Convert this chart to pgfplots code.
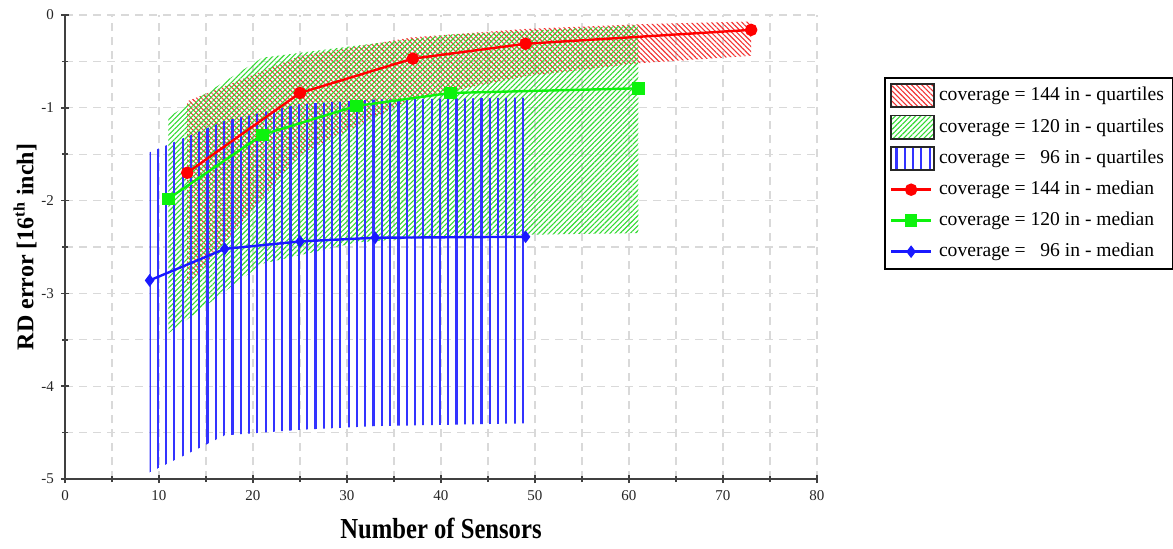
\documentclass[border=0pt]{standalone}
\usepackage{pgfplots}
\pgfplotsset{compat=1.18}
\usetikzlibrary{patterns.meta}
\usepackage{fontspec}
\setmainfont{Liberation Serif}
\usepackage{graphicx}

\definecolor{medred}{rgb}{1,0,0}
\definecolor{medgreen}{rgb}{0.05,0.95,0.05}
\definecolor{medblue}{rgb}{0.1,0.1,1}
\definecolor{hatchred}{rgb}{0.95,0.2,0.2}
\definecolor{hatchgreen}{rgb}{0.2,0.85,0.2}
\definecolor{hatchblue}{rgb}{0.2,0.2,1}

\begin{document}
\begin{tikzpicture}
\useasboundingbox (-32.5pt,-34.5pt) rectangle (554pt,239.5pt);
\begin{axis}[
  scale only axis, width=376pt, height=232pt,
  xmin=0, xmax=80, ymin=-5, ymax=0,
  axis x line=bottom, axis y line=left,
  axis line style={-, line width=0.9pt, black!75},
  xtick={0,10,...,80}, ytick={-5,-4,...,0},
  minor x tick num=1, minor y tick num=1,
  grid=both,
  major grid style={dash pattern=on 4pt off 3pt, gray!30, line width=0.6pt},
  minor grid style={dash pattern=on 4pt off 3pt, gray!30, line width=0.6pt},
  tick align=center, major tick length=4pt, minor tick length=3pt,
  tick style={black!75, line width=0.8pt},
  ticklabel style={font=\fontsize{7.5}{8}\selectfont, text=black!85},
  /pgf/number format/assume math mode=true,
  xlabel={\scalebox{0.85}[1]{\fontsize{14.5}{16}\selectfont\bfseries Number of Sensors}},
  ylabel={\fontsize{12}{14}\selectfont\bfseries RD error [16\textsuperscript{th} inch]},
  every axis x label/.style={at={(axis description cs:0.5,-0.106)}, anchor=center},
  every axis y label/.style={at={(axis description cs:-0.053,0.5)}, anchor=center, rotate=90},
  legend style={at={(1.089,0.866)}, anchor=north west, draw=black, line width=1pt,
    font=\fontsize{9.8}{12}\selectfont, inner sep=2.5pt, row sep=3.2pt,
    /tikz/every even column/.append style={column sep=2pt}},
  legend cell align=left,
  quart/.style={draw=none,
    legend image code/.code={\draw[##1, draw=black!85, line width=0.9pt] (0pt,-5.8pt) rectangle (21.5pt,5.8pt);}},
  med/.style={line width=1.2pt,
    legend image code/.code={\draw[mark repeat=2,mark phase=2,##1] plot coordinates {(0pt,0pt) (10pt,0pt) (20pt,0pt)};}},
]
% quartile areas
\addplot[quart, pattern={Lines[angle=-45,distance=1.8pt,line width=0.55pt]}, pattern color=hatchred]
 coordinates {(13,-0.93) (25,-0.44) (37,-0.24) (49,-0.15) (61,-0.10) (73,-0.07)
              (73,-0.44) (61,-0.52) (49,-0.66) (37,-0.90) (25,-1.50) (13,-2.92) (13,-0.93)};
\addlegendentry{coverage = 144 in - quartiles}
\addplot[quart, pattern={Lines[angle=45,distance=1.8pt,line width=0.55pt]}, pattern color=hatchgreen]
 coordinates {(11,-1.10) (21,-0.46) (31,-0.33) (41,-0.21) (61,-0.11)
              (61,-2.35) (41,-2.38) (31,-2.45) (21,-2.68) (11,-3.43) (11,-1.10)};
\addlegendentry{coverage = 120 in - quartiles}
\addplot[quart, pattern={Lines[angle=90,distance=4.15pt,line width=1.1pt]}, pattern color=hatchblue]
 coordinates {(9,-1.48) (17,-1.14) (25,-0.96) (33,-0.91) (49,-0.89)
              (49,-4.40) (33,-4.43) (25,-4.47) (17,-4.53) (9,-4.93) (9,-1.48)};
\addlegendentry{coverage = \phantom{1}96 in - quartiles}
% medians
\addplot[med, color=medred, mark=*, mark size=2.5pt]
 coordinates {(13,-1.70) (25,-0.84) (37,-0.47) (49,-0.31) (73,-0.16)};
\addlegendentry{coverage = 144 in - median}
\addplot[med, color=medgreen, mark=square*, mark size=2.5pt]
 coordinates {(11,-1.98) (21,-1.29) (31,-0.98) (41,-0.84) (61,-0.79)};
\addlegendentry{coverage = 120 in - median}
\addplot[med, color=medblue, mark=diamond*, mark size=2.2pt]
 coordinates {(9,-2.86) (17,-2.52) (25,-2.44) (33,-2.40) (49,-2.39)};
\addlegendentry{coverage = \phantom{1}96 in - median}
\end{axis}
\end{tikzpicture}
\end{document}
